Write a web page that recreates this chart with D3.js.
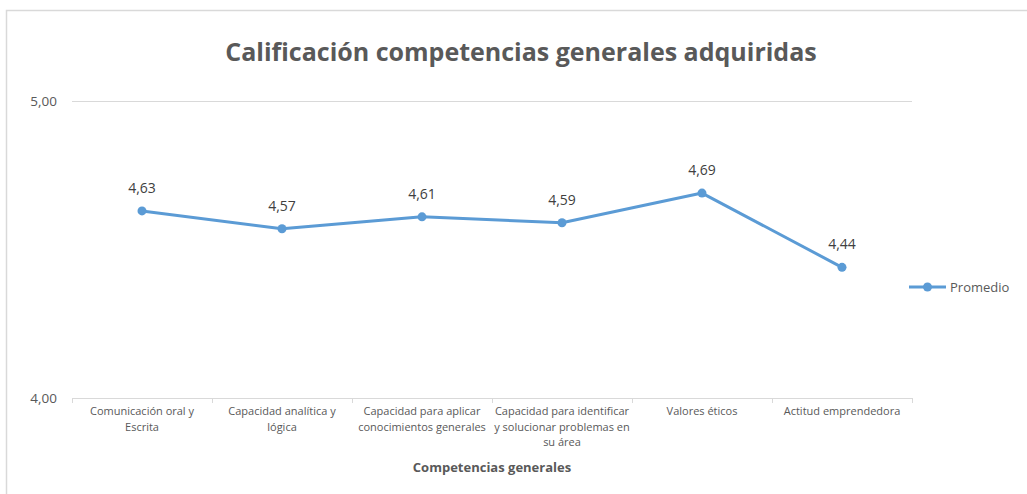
<!DOCTYPE html>
<html>
<head>
<meta charset="utf-8">
<script src="https://cdn.jsdelivr.net/npm/d3@7"></script>
<style>
  body { margin: 0; background: #fff; }
  text { font-family: "Open Sans", "Noto Sans", sans-serif; }
</style>
</head>
<body>
<script>
// chart data
var categories = [
    ["Comunicación oral y", "Escrita"],
    ["Capacidad analítica y", "lógica"],
    ["Capacidad para aplicar", "conocimientos generales"],
    ["Capacidad para identificar", "y solucionar problemas en", "su área"],
    ["Valores éticos"],
    ["Actitud emprendedora"]
];
var promedio = [4.63, 4.57, 4.61, 4.59, 4.69, 4.44];
var yTicks = [4, 5];
var seriesName = "Promedio";
var chartTitle = "Calificación competencias generales adquiridas";
var xTitle = "Competencias generales";

var W = 1027, H = 494;
var plot = {left: 72, right: 912, top: 101, bottom: 398};
var blue = "#5B9BD5", grid = "#d9d9d9", txt = "#595959";

var svg = d3.select("body").append("svg")
    .attr("width", W)
    .attr("height", H);

// chart frame (only left / top visible in the picture)
svg.append("path")
    .attr("d", "M6.5," + H + " V10.5 H" + (W + 2))
    .attr("fill", "none")
    .attr("stroke", grid)
    .attr("stroke-width", 1.5);

var x = d3.scaleBand()
    .domain(d3.range(categories.length))
    .range([plot.left, plot.right]);

var y = d3.scaleLinear()
    .domain([4, 5])
    .range([plot.bottom, plot.top]);

// gridlines
svg.append("g").selectAll("line")
    .data(yTicks)
    .enter().append("line")
    .attr("x1", plot.left).attr("x2", plot.right)
    .attr("y1", d => Math.round(y(d)) + 0.5).attr("y2", d => Math.round(y(d)) + 0.5)
    .attr("stroke", grid)
    .attr("stroke-width", 1);

// y labels
svg.append("g").selectAll("text")
    .data(yTicks)
    .enter().append("text")
    .attr("x", 57)
    .attr("y", d => y(d))
    .attr("dy", "0.35em")
    .attr("text-anchor", "end")
    .attr("font-size", 13.5)
    .attr("fill", txt)
    .text(d => d3.format(".2f")(d).replace(".", ","));

// x tick marks at category boundaries
var bounds = d3.range(categories.length + 1).map(i => plot.left + i * x.bandwidth());
svg.append("g").selectAll("line")
    .data(bounds)
    .enter().append("line")
    .attr("x1", d => Math.round(d) + 0.5).attr("x2", d => Math.round(d) + 0.5)
    .attr("y1", plot.bottom).attr("y2", plot.bottom + 5)
    .attr("stroke", grid);

// x category labels
var xl = svg.append("g").selectAll("text")
    .data(categories)
    .enter().append("text")
    .attr("x", (d, i) => x(i) + x.bandwidth() / 2)
    .attr("y", 415)
    .attr("text-anchor", "middle")
    .attr("font-size", 11)
    .attr("fill", txt);
xl.selectAll("tspan")
    .data(d => d)
    .enter().append("tspan")
    .attr("x", function () { return this.parentNode.getAttribute("x"); })
    .attr("dy", (d, i) => i === 0 ? 0 : 15.5)
    .text(d => d);

// series line
var line = d3.line()
    .x((d, i) => x(i) + x.bandwidth() / 2)
    .y(d => y(d));

svg.append("path")
    .datum(promedio)
    .attr("d", line)
    .attr("fill", "none")
    .attr("stroke", blue)
    .attr("stroke-width", 3)
    .attr("stroke-linejoin", "round")
    .attr("stroke-linecap", "round");

svg.append("g").selectAll("circle")
    .data(promedio)
    .enter().append("circle")
    .attr("cx", (d, i) => x(i) + x.bandwidth() / 2)
    .attr("cy", d => y(d))
    .attr("r", 4.5)
    .attr("fill", blue);

// data labels
svg.append("g").selectAll("text")
    .data(promedio)
    .enter().append("text")
    .attr("x", (d, i) => x(i) + x.bandwidth() / 2)
    .attr("y", d => y(d) - 18)
    .attr("text-anchor", "middle")
    .attr("font-size", 14)
    .attr("fill", "#404040")
    .text(d => d3.format(".2f")(d).replace(".", ","));

// title
svg.append("text")
    .attr("x", 521)
    .attr("y", 61)
    .attr("text-anchor", "middle")
    .attr("font-size", 25)
    .attr("font-weight", "bold")
    .attr("fill", txt)
    .text(chartTitle);

// axis title
svg.append("text")
    .attr("x", 492)
    .attr("y", 472)
    .attr("text-anchor", "middle")
    .attr("font-size", 13)
    .attr("font-weight", "bold")
    .attr("fill", txt)
    .text(xTitle);

// legend
var lg = svg.append("g").attr("transform", "translate(909,287)");
lg.append("line")
    .attr("x1", 0).attr("x2", 37)
    .attr("stroke", blue)
    .attr("stroke-width", 3);
lg.append("circle")
    .attr("cx", 18.5)
    .attr("r", 4.5)
    .attr("fill", blue);
lg.append("text")
    .attr("x", 41)
    .attr("dy", "0.35em")
    .attr("font-size", 13)
    .attr("fill", txt)
    .text(seriesName);
</script>
</body>
</html>
